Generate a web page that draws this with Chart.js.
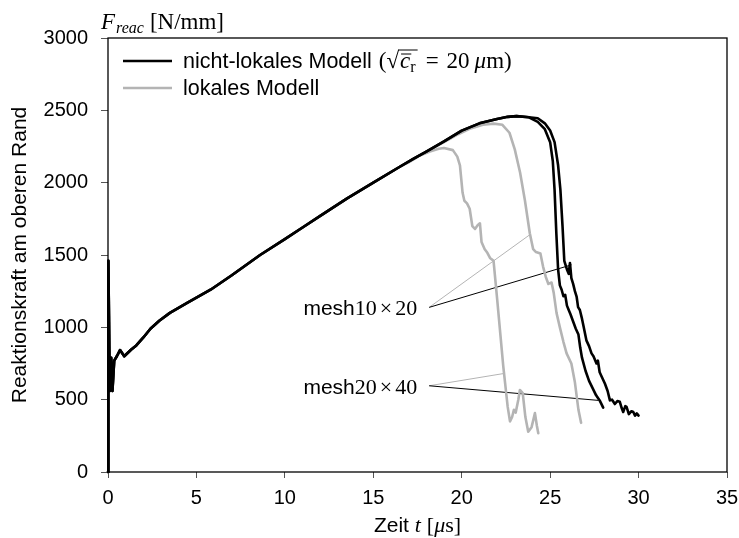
<!DOCTYPE html>
<html>
<head>
<meta charset="utf-8">
<script src="https://cdn.jsdelivr.net/npm/chart.js@4"></script>
<style>
  html, body { margin: 0; padding: 0; background: #fff; }
  #wrap { width: 739px; height: 538px; }
</style>
</head>
<body>
<div id="wrap"><canvas id="chart"></canvas></div>
<script>
// axis ticks
const xTicks = [0, 5, 10, 15, 20, 25, 30, 35];
const yTicks = [0, 500, 1000, 1500, 2000, 2500, 3000];

// [t (µs), F (N/mm)]
const sharedRise = [
  [0, 0], [0.02, 1460], [0.1, 560], [0.18, 790], [0.25, 560], [0.35, 770],
  [0.5, 800], [0.68, 843], [0.92, 800], [1.3, 845], [1.6, 875], [2.0, 930],
  [2.4, 990], [2.9, 1045], [3.5, 1100], [4.5, 1170], [5.8, 1260], [7, 1360],
  [8.6, 1500], [10, 1610], [11, 1690], [12, 1770], [13.5, 1890], [15, 2000],
  [16.5, 2110]
];
const nonlocalPeak = [
  [17.26, 2165], [18, 2215], [19, 2285], [20, 2360], [21, 2410], [22, 2440],
  [22.6, 2455], [23.1, 2460], [23.8, 2452]
];
const nonlocalMesh20x40 = [
  [24.3, 2420], [24.7, 2370], [25.0, 2280], [25.15, 2150], [25.25, 1950],
  [25.35, 1650], [25.45, 1400], [25.55, 1290], [25.65, 1260], [25.75, 1215],
  [25.85, 1225], [25.95, 1150], [26.05, 1120], [26.15, 1090], [26.3, 1040],
  [26.45, 990], [26.6, 950], [26.7, 860], [26.8, 790], [27.0, 700],
  [27.2, 630], [27.4, 580], [27.6, 530], [27.8, 495], [28.0, 445]
];
const nonlocalMesh10x20 = [
  [24.3, 2445], [24.7, 2410], [25.0, 2360], [25.25, 2280], [25.45, 2120],
  [25.58, 1950], [25.7, 1700], [25.8, 1460], [25.95, 1400], [26.05, 1370],
  [26.12, 1445], [26.2, 1340], [26.3, 1300], [26.4, 1250], [26.5, 1210],
  [26.58, 1140], [26.68, 1120], [26.8, 1060], [26.9, 1000], [27.05, 910],
  [27.2, 870], [27.34, 820], [27.45, 800], [27.62, 750], [27.7, 770],
  [27.8, 690], [27.95, 650], [28.1, 610], [28.25, 560], [28.38, 495],
  [28.5, 500], [28.66, 470], [28.8, 490], [28.94, 485], [29.05, 440],
  [29.13, 415], [29.25, 455], [29.32, 450], [29.45, 400], [29.6, 420],
  [29.7, 415], [29.8, 390], [29.9, 405], [30.0, 390]
];
const localMesh20x40 = [
  [17.0, 2140], [17.6, 2185], [18.2, 2215], [18.7, 2235], [19.0, 2240],
  [19.5, 2225], [19.75, 2180], [19.9, 2120], [20.05, 1930], [20.15, 1875],
  [20.3, 1857], [20.45, 1820], [20.6, 1700], [20.75, 1680], [20.9, 1705],
  [21.03, 1719], [21.12, 1590], [21.3, 1540], [21.45, 1515], [21.6, 1480],
  [21.8, 1460], [22.0, 1200], [22.35, 730], [22.6, 450], [22.73, 350],
  [22.85, 380], [22.95, 430], [23.05, 410], [23.2, 500], [23.29, 567],
  [23.45, 545], [23.6, 380], [23.76, 278], [23.95, 310], [24.05, 360],
  [24.14, 407], [24.25, 320], [24.33, 268]
];
const localMesh10x20 = [
  [17.26, 2165], [18, 2215], [19, 2280], [19.8, 2335], [20.5, 2375],
  [21.2, 2400], [21.8, 2408], [22.3, 2400], [22.7, 2345], [23.0, 2230],
  [23.3, 2070], [23.57, 1880], [23.85, 1650], [24.04, 1540], [24.2, 1520],
  [24.45, 1510], [24.6, 1420], [24.75, 1350], [24.9, 1300], [25.08, 1310],
  [25.2, 1240], [25.36, 1100], [25.55, 1000], [25.75, 900], [25.93, 820],
  [26.2, 750], [26.4, 620], [26.6, 430], [26.75, 340]
];

// annotation leader lines: [label start, end on curve]
const annoMesh10x20Gray = [[18.16, 1138], [23.85, 1640]];
const annoMesh10x20Black = [[18.16, 1138], [26.21, 1432]];
const annoMesh20x40Gray = [[18.16, 596], [22.44, 682]];
const annoMesh20x40Black = [[18.16, 596], [27.72, 495]];

const sans = '"Liberation Sans", Arial, sans-serif';
const serif = '"Liberation Serif", "Times New Roman", serif';
const BLACK = '#000';
const GRAY = '#b4b4b4';

const pts = arr => arr.map(([x, y]) => ({ x, y }));

function curve(data, color) {
  return {
    data: pts(data), borderColor: color, borderWidth: 2.6,
    pointRadius: 0, tension: 0, fill: false, clip: false,
    borderJoinStyle: 'round', borderCapStyle: 'round'
  };
}
function leader(data, color) {
  return {
    data: pts(data), borderColor: color, borderWidth: 1,
    pointRadius: 0, tension: 0, fill: false
  };
}

// draws a row of text pieces with different fonts, returns end x
function runs(ctx, x, y, parts, measureOnly) {
  let cx = x;
  parts.forEach(p => {
    ctx.font = p.f;
    if (!measureOnly) ctx.fillText(p.t, cx, y + (p.dy || 0));
    cx += ctx.measureText(p.t).width + (p.gap || 0);
  });
  return cx;
}

const textPlugin = {
  id: 'texts',
  afterDraw(chart) {
    const ctx = chart.ctx;
    const a = chart.chartArea;
    const xs = chart.scales.x, ys = chart.scales.y;
    ctx.save();
    // frame box
    ctx.strokeStyle = '#000';
    ctx.lineWidth = 1.3;
    ctx.strokeRect(a.left, a.top, a.right - a.left, a.bottom - a.top);

    ctx.fillStyle = '#000';
    ctx.textBaseline = 'alphabetic';
    ctx.textAlign = 'left';

    // unit label at the top of the y axis
    runs(ctx, a.left - 7, a.top - 9, [
      { f: 'italic 23px ' + serif, t: 'F', gap: 1 },
      { f: 'italic 16px ' + serif, t: 'reac', dy: 4, gap: 6 },
      { f: '23px ' + serif, t: '[N/mm]' }
    ]);

    // y title
    ctx.save();
    ctx.translate(26, (a.top + a.bottom) / 2);
    ctx.rotate(-Math.PI / 2);
    ctx.textAlign = 'center';
    ctx.font = '21px ' + sans;
    ctx.fillText('Reaktionskraft am oberen Rand', 0, 0);
    ctx.restore();

    // x title
    const xParts = [
      { f: '21px ' + sans, t: 'Zeit ' },
      { f: 'italic 22px ' + serif, t: 't', gap: 6 },
      { f: '22px ' + serif, t: '[' },
      { f: 'italic 22px ' + serif, t: 'μ' },
      { f: '22px ' + serif, t: 's]' }
    ];
    const xw = runs(ctx, 0, 0, xParts, true);
    runs(ctx, (a.left + a.right) / 2 - xw / 2, 532, xParts);

    // legend
    const lx = a.left + 15;
    ctx.lineWidth = 2.6;
    ctx.strokeStyle = BLACK;
    ctx.beginPath(); ctx.moveTo(lx, 61); ctx.lineTo(lx + 49, 61); ctx.stroke();
    ctx.strokeStyle = GRAY;
    ctx.beginPath(); ctx.moveTo(lx, 88); ctx.lineTo(lx + 49, 88); ctx.stroke();

    const tx = lx + 60;
    let cx = runs(ctx, tx, 68, [
      { f: '21.5px ' + sans, t: 'nicht-lokales Modell', gap: 7 },
      { f: '23px ' + serif, t: '(' },
      { f: '23px ' + serif, t: '√' }
    ]);
    const rootStart = cx - 1;
    ctx.font = 'italic 23px ' + serif;
    ctx.fillText('c', cx + 1, 68);
    const cw = ctx.measureText('c').width;
    ctx.lineWidth = 1;
    ctx.strokeStyle = '#000';
    ctx.beginPath(); ctx.moveTo(cx + 2, 54); ctx.lineTo(cx + cw + 2, 54); ctx.stroke();
    cx += cw + 1;
    ctx.font = '16px ' + serif;
    ctx.fillText('r', cx, 72);
    cx += ctx.measureText('r').width + 2;
    ctx.beginPath(); ctx.moveTo(rootStart, 50); ctx.lineTo(cx, 50); ctx.stroke();
    runs(ctx, cx + 8, 68, [
      { f: '23px ' + serif, t: '=', gap: 8 },
      { f: '23px ' + serif, t: '20', gap: 5 },
      { f: 'italic 23px ' + serif, t: 'μ' },
      { f: '23px ' + serif, t: 'm)' }
    ]);
    runs(ctx, tx, 95, [{ f: '21.5px ' + sans, t: 'lokales Modell' }]);

    // mesh labels at the start of their leader lines
    const meshLabel = (start, a1, a2) => {
      const parts = [
        { f: '21px ' + sans, t: 'mesh' },
        { f: '22px ' + serif, t: a1, gap: 3 },
        { f: '22px ' + serif, t: '×', gap: 3 },
        { f: '22px ' + serif, t: a2 }
      ];
      const w = runs(ctx, 0, 0, parts, true);
      const px = xs.getPixelForValue(start[0]) - 12 - w;
      const py = ys.getPixelForValue(start[1]) + 8;
      runs(ctx, px, py, parts);
    };
    meshLabel(annoMesh10x20Gray[0], '10', '20');
    meshLabel(annoMesh20x40Gray[0], '20', '40');
    ctx.restore();
  }
};

const ctx = document.getElementById('chart').getContext('2d');
new Chart(ctx, {
  type: 'line',
  data: {
    datasets: [
      curve(sharedRise.concat(nonlocalPeak, nonlocalMesh10x20), BLACK),
      curve(sharedRise.concat(nonlocalPeak, nonlocalMesh20x40), BLACK),
      curve(sharedRise.concat(localMesh10x20), GRAY),
      curve(sharedRise.concat(localMesh20x40), GRAY),
      leader(annoMesh10x20Black, BLACK),
      leader(annoMesh20x40Black, BLACK),
      leader(annoMesh10x20Gray, GRAY),
      leader(annoMesh20x40Gray, GRAY)
    ]
  },
  options: {
    responsive: true,
    maintainAspectRatio: false,
    animation: false,
    parsing: false,
    layout: { padding: { top: 38, right: 0, left: 0, bottom: 0 } },
    plugins: { legend: { display: false }, tooltip: { enabled: false } },
    scales: {
      x: {
        type: 'linear', min: 0, max: 35,
        afterBuildTicks: s => { s.ticks = xTicks.map(v => ({ value: v })); },
        afterFit: s => { s.height = 66; s.paddingRight = 12; s.paddingLeft = 0; },
        ticks: { color: '#000', font: { family: sans, size: 20 }, padding: 8, maxRotation: 0,
                 callback: v => String(v) },
        grid: { drawOnChartArea: false, tickLength: 6, color: '#555' },
        border: { display: false }
      },
      y: {
        type: 'linear', min: 0, max: 3000,
        afterBuildTicks: s => { s.ticks = yTicks.map(v => ({ value: v })); },
        afterFit: s => { s.width = 108; },
        ticks: { color: '#000', font: { family: sans, size: 20 }, padding: 13,
                 callback: v => String(v) },
        grid: { drawOnChartArea: false, tickLength: 7, color: '#555' },
        border: { display: false }
      }
    }
  },
  plugins: [textPlugin]
});
</script>
</body>
</html>
